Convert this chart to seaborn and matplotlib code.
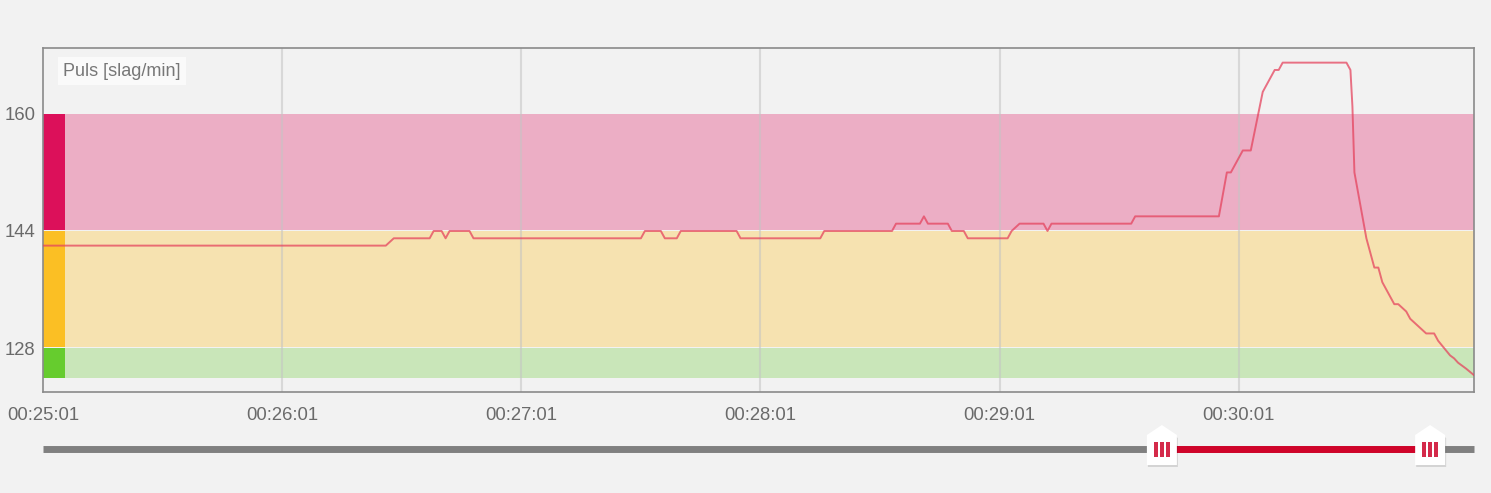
import matplotlib
matplotlib.use("Agg")
import matplotlib.pyplot as plt
from matplotlib.patches import Polygon, Rectangle
import seaborn as sns
import pandas as pd
import numpy as np

# --- data ---
# seconds after 00:25:01, heart rate in bpm
seconds = [0, 86, 88, 97, 98, 100, 101, 102, 107, 108, 150, 151, 155, 156, 159, 160,
           174, 175, 195, 196, 213, 214, 220, 221, 222, 227, 228, 231, 232, 242, 243,
           245, 251, 252, 253, 273, 274, 295, 297, 298, 301, 303, 306, 309, 310, 311,
           327, 328, 328.5, 329, 332, 334, 335, 336, 339, 340, 342, 343, 345, 347,
           349, 350, 353, 354, 355, 357, 359]
pulse = [142, 142, 143, 143, 144, 144, 143, 144, 144, 143, 143, 144, 144, 143, 143, 144,
         144, 143, 143, 144, 144, 145, 145, 146, 145, 145, 144, 144, 143, 143, 144,
         145, 145, 144, 145, 145, 146, 146, 152, 152, 155, 155, 163, 166, 166, 167,
         167, 166, 161, 152, 143, 139, 139, 137, 134, 134, 133, 132, 131, 130,
         130, 129, 127, 126.6, 126, 125.2, 124.3]

zone_edges = [123.7, 128, 144, 160]
zone_colors = ['#c9e6b9', '#f6e2b0', '#ecaec5']
zone_marks = ['#66cc2e', '#fbbf24', '#dc105a']

tick_secs = [0, 60, 120, 180, 240, 300]
tick_labels = ['00:25:01', '00:26:01', '00:27:01', '00:28:01', '00:29:01', '00:30:01']
y_ticks = [128, 144, 160]

sel_start, sel_end = 280.7, 348.0
x_max = 359.0

df = pd.DataFrame({'sec': seconds, 'bpm': pulse})

sns.set_style("white", {'axes.facecolor': '#f2f2f2', 'figure.facecolor': '#f2f2f2'})
plt.rcParams['font.family'] = ['Liberation Sans', 'DejaVu Sans']

W, H = 1491, 493
fig = plt.figure(figsize=(W / 100, H / 100), dpi=100)
fig.patch.set_facecolor('#f2f2f2')

ax = fig.add_axes([43 / W, 1 - 392 / H, (1474 - 43) / W, (392 - 48) / H])
ax.set_facecolor('#f2f2f2')

# zone bands + coloured stripe on the left
for i in range(3):
    lo, hi = zone_edges[i], zone_edges[i + 1]
    ax.axhspan(lo + 0.15, hi - 0.05, color=zone_colors[i], lw=0, zorder=0.5)
    ax.axhspan(lo + 0.15, hi - 0.05, xmin=0, xmax=22 / 1431, color=zone_marks[i], lw=0, zorder=0.6)

for t in tick_secs[1:]:
    ax.axvline(t, color='#c4c4c4', alpha=0.55, lw=1.5, zorder=1)

sns.lineplot(data=df, x='sec', y='bpm', estimator=None, sort=False,
             color='#e5445e', alpha=0.75, lw=1.4, ax=ax, zorder=3)

ax.set_xlim(0, x_max)
ax.set_ylim(122, 169)
ax.set_xticks(tick_secs)
ax.set_xticklabels(tick_labels)
ax.set_yticks(y_ticks)
ax.set_xlabel('')
ax.set_ylabel('')
ax.tick_params(axis='both', length=0, labelsize=13.3, labelcolor='#6a6a6a')
ax.tick_params(axis='x', pad=11)
ax.tick_params(axis='y', pad=5.5)
for s in ax.spines.values():
    s.set_color('#8a8a8a')
    s.set_linewidth(1.2)

ax.text(20 / 1431, 1 - 23 / 344, 'Puls [slag/min]', transform=ax.transAxes,
        ha='left', va='center', fontsize=13, color='#777777', zorder=5,
        bbox=dict(boxstyle='square,pad=0.3', facecolor='#fafafa', edgecolor='none'))

# --- range slider under the chart ---
sl = fig.add_axes([43 / W, 1 - 475 / H, (1476 - 43) / W, (475 - 420) / H])
sl.set_xlim(0, x_max * 1433 / 1431)
sl.set_ylim(475, 420)
sl.axis('off')
sl.plot([0, x_max], [449, 449], color='#808080', lw=5, solid_capstyle='butt', zorder=1)
sl.plot([sel_start, sel_end], [449, 449], color='#d0042a', lw=5, solid_capstyle='butt', zorder=2)

px = x_max / 1431  # seconds per pixel
for c in [sel_start, sel_end]:
    hw = 15 * px
    shadow = Polygon([(c - hw + px, 438), (c, 428), (c + hw + px, 438), (c + hw + px, 467), (c - hw + px, 467)],
                     closed=True, facecolor='#000000', alpha=0.12, edgecolor='none', zorder=3)
    sl.add_patch(shadow)
    house = Polygon([(c - hw, 435), (c, 425), (c + hw, 435), (c + hw, 465), (c - hw, 465)],
                    closed=True, facecolor='white', edgecolor='none', zorder=4)
    sl.add_patch(house)
    for dx in (-6, 0, 6):
        sl.add_patch(Rectangle((c + (dx - 1.7) * px, 442), 3.4 * px, 15,
                               facecolor='#d42a4a', edgecolor='none', zorder=5))

plt.savefig('out.png', dpi=100, facecolor=fig.get_facecolor())
